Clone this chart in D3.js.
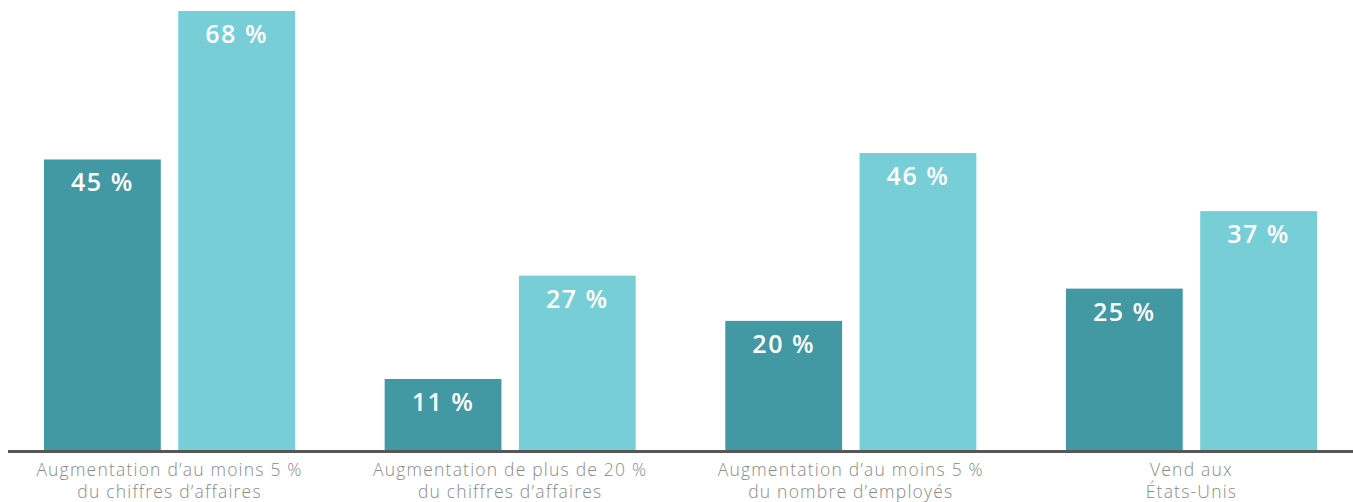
<!DOCTYPE html>
<html lang="fr">
<head>
<meta charset="utf-8">
<script src="https://cdn.jsdelivr.net/npm/d3@7"></script>
<style>
  html, body { margin: 0; padding: 0; background: #ffffff; }
  svg { display: block; }
</style>
</head>
<body>
<svg id="chart" width="1353" height="502"></svg>
<script>
// Catégories (deux lignes chacune)
const categories = [
  ["Augmentation d\u2019au moins 5 %", "du chiffres d\u2019affaires"],
  ["Augmentation de plus de 20 %", "du chiffres d\u2019affaires"],
  ["Augmentation d\u2019au moins 5 %", "du nombre d\u2019employés"],
  ["Vend aux", "États-Unis"]
];
// Deux séries de pourcentages
const seriesA = [45, 11, 20, 25];
const seriesB = [68, 27, 46, 37];
const seriesKeys = ["a", "b"];
const seriesColors = ["#4399a3", "#77ced6"];

const svg = d3.select("#chart");
const baseY = 450;

const rows = categories.map((c, i) => ({ idx: i, label: c, a: seriesA[i], b: seriesB[i] }));

const x0 = d3.scaleBand()
  .domain(rows.map(d => d.idx))
  .range([44, 1317])
  .paddingInner(0.263)
  .paddingOuter(0);

const x1 = d3.scaleBand()
  .domain(seriesKeys)
  .range([0, x0.bandwidth()])
  .paddingInner(0.13)
  .paddingOuter(0);

const y = d3.scaleLinear().domain([0, 68]).range([baseY, 11]);

const color = d3.scaleOrdinal().domain(seriesKeys).range(seriesColors);

const groups = svg.append("g").selectAll("g")
  .data(rows)
  .join("g")
  .attr("transform", d => `translate(${x0(d.idx)},0)`);

const bars = groups.selectAll("g.bar")
  .data(d => seriesKeys.map(k => ({ key: k, value: d[k] })))
  .join("g")
  .attr("class", "bar");

bars.append("rect")
  .attr("x", d => x1(d.key))
  .attr("y", d => y(d.value))
  .attr("width", x1.bandwidth())
  .attr("height", d => y(0) - y(d.value))
  .attr("fill", d => color(d.key));

bars.append("text")
  .attr("x", d => x1(d.key) + x1.bandwidth() / 2)
  .attr("y", d => y(d.value) + 32)
  .attr("text-anchor", "middle")
  .attr("fill", "#ffffff")
  .attr("font-family", "'Open Sans', sans-serif")
  .attr("font-weight", 600)
  .attr("font-size", 25)
  .attr("letter-spacing", 1.5)
  .text(d => `${d.value} %`);

// Ligne de base
svg.append("line")
  .attr("x1", 8).attr("x2", 1353)
  .attr("y1", baseY + 1.5).attr("y2", baseY + 1.5)
  .attr("stroke", "#575757")
  .attr("stroke-width", 3);

// Étiquettes des catégories, une ligne de texte par élément
const labelLines = rows.flatMap(d => d.label.map((t, i) => ({ idx: d.idx, line: i, text: t })));

svg.append("g").selectAll("text")
  .data(labelLines)
  .join("text")
  .attr("x", d => x0(d.idx) + x0.bandwidth() / 2)
  .attr("y", d => 476 + d.line * 22)
  .attr("text-anchor", "middle")
  .attr("fill", "#8a8a8a")
  .attr("font-family", "'Open Sans', sans-serif")
  .attr("font-weight", 300)
  .attr("font-size", 17.5)
  .attr("letter-spacing", 1.2)
  .text(d => d.text);
</script>
</body>
</html>
